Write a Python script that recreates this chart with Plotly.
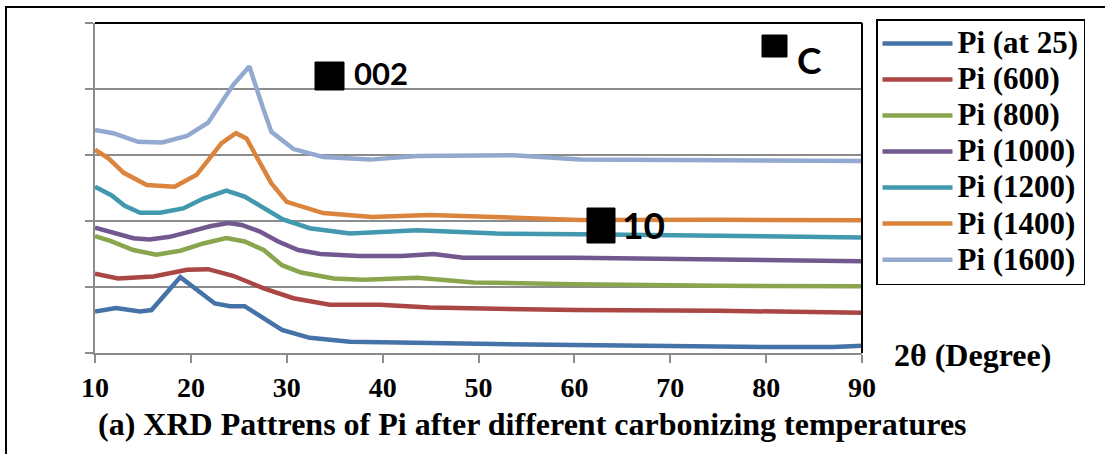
import plotly.graph_objects as go

series_names = ["Pi (at 25)", "Pi (600)", "Pi (800)", "Pi (1000)", "Pi (1200)", "Pi (1400)", "Pi (1600)"]
series_colors = ["#4572A7", "#AA4643", "#89A54E", "#71588F", "#4198AF", "#DB843D", "#93A9CF"]

x_25 = [10, 12.2, 14.7, 15.9, 18.9, 22.5, 24.1, 25.6, 29.5, 32.4, 36.6, 40, 50, 60, 70, 80, 87, 90]
y_25 = [0.63, 0.68, 0.63, 0.65, 1.15, 0.75, 0.71, 0.71, 0.35, 0.23, 0.17, 0.16, 0.14, 0.12, 0.10, 0.09, 0.09, 0.11]

x_600 = [10, 12.4, 16.1, 19.6, 21.8, 24.4, 27.6, 30.7, 34.5, 39.7, 44.9, 60, 75, 90]
y_600 = [1.20, 1.13, 1.16, 1.26, 1.27, 1.17, 0.98, 0.83, 0.73, 0.73, 0.69, 0.65, 0.64, 0.61]

x_800 = [10, 11.6, 14.0, 16.4, 18.9, 21.3, 23.7, 25.6, 27.6, 29.5, 31.5, 34.9, 38.0, 43.6, 49.5, 60, 75, 90]
y_800 = [1.77, 1.70, 1.56, 1.49, 1.55, 1.66, 1.74, 1.69, 1.56, 1.33, 1.22, 1.13, 1.11, 1.14, 1.07, 1.04, 1.02, 1.01]

x_1000 = [10, 11.6, 14.0, 15.7, 17.8, 19.9, 22.0, 23.9, 25.3, 27.2, 29.1, 31.2, 33.5, 37.6, 42, 45.3, 48.4, 60, 75, 90]
y_1000 = [1.90, 1.84, 1.74, 1.72, 1.76, 1.84, 1.92, 1.97, 1.94, 1.84, 1.69, 1.56, 1.50, 1.47, 1.47, 1.50, 1.445, 1.445, 1.42, 1.39]

x_1200 = [10, 11.7, 13.1, 14.7, 16.8, 19.2, 21.3, 23.7, 25.6, 27.6, 29.6, 32.4, 36.6, 43.6, 51.9, 60.6, 75, 90]
y_1200 = [2.52, 2.39, 2.23, 2.125, 2.125, 2.19, 2.34, 2.46, 2.37, 2.19, 2.025, 1.89, 1.81, 1.86, 1.81, 1.80, 1.77, 1.75]

x_1400 = [10, 11.4, 13.0, 15.4, 18.3, 20.6, 23.2, 24.7, 25.8, 28.4, 30.0, 33.8, 38.9, 44.9, 50, 60.6, 75, 90]
y_1400 = [3.08, 2.95, 2.73, 2.545, 2.52, 2.70, 3.18, 3.33, 3.25, 2.57, 2.29, 2.12, 2.06, 2.09, 2.07, 2.015, 2.02, 2.01]

x_1600 = [10, 11.9, 14.5, 17.0, 19.6, 21.8, 24.4, 26.1, 27.6, 28.4, 30.7, 33.8, 38.7, 43.6, 53.6, 60.6, 75, 90]
y_1600 = [3.38, 3.33, 3.20, 3.19, 3.29, 3.49, 4.06, 4.34, 3.68, 3.35, 3.09, 2.97, 2.93, 2.985, 2.995, 2.93, 2.92, 2.91]

x_ticks = [10, 20, 30, 40, 50, 60, 70, 80, 90]
x_title = "2θ (Degree)"
chart_caption = "(a) XRD Pattrens of Pi after different carbonizing temperatures"
peak_labels = ["002", "C", "10"]

xs_all = [x_25, x_600, x_800, x_1000, x_1200, x_1400, x_1600]
ys_all = [y_25, y_600, y_800, y_1000, y_1200, y_1400, y_1600]

W, H = 1105, 454
L, R, T, B = 95, 862, 23, 353


def px(xp):
    return (xp - L) / (R - L)


def py(yp):
    return (B - yp) / (B - T)


SERIF = "Liberation Serif"
SANS = "Lato"

fig = go.Figure()
for name, xs, ys, col in zip(series_names, xs_all, ys_all, series_colors):
    fig.add_trace(go.Scatter(
        x=xs, y=ys, mode="lines",
        name='<span style="font-size:31px">%s</span>' % name,
        line=dict(color=col, width=4.5),
    ))

grey = "#8C8C8C"
fig.update_xaxes(
    range=[10, 90], tickvals=x_ticks, ticks="outside", ticklen=8, tickwidth=1.5,
    tickcolor=grey, showline=True, linecolor=grey, linewidth=2, showgrid=False,
    zeroline=False, tickfont=dict(family=SERIF, size=28, color="black", weight="bold"),
    ticklabelstandoff=0,
)
fig.update_yaxes(
    range=[0, 5], dtick=1, ticks="outside", ticklen=8, tickwidth=1.5, tickcolor=grey,
    showticklabels=False, showline=True, linecolor=grey, linewidth=2,
    showgrid=True, gridcolor=grey, gridwidth=1.5, zeroline=False,
)

shapes = [
    dict(type="line", xref="paper", yref="paper", x0=0, x1=1, y0=1, y1=1,
         line=dict(color="black", width=2)),
    dict(type="line", xref="paper", yref="paper", x0=1, x1=1, y0=0, y1=1,
         line=dict(color="black", width=2)),
    dict(type="rect", xref="paper", yref="paper", x0=px(6), x1=px(1112), y0=py(462), y1=py(7),
         line=dict(color="black", width=2), layer="below"),
    dict(type="rect", xref="paper", yref="paper", x0=px(315), x1=px(344), y0=py(90), y1=py(62),
         fillcolor="black", line=dict(color="black", width=1)),
    dict(type="rect", xref="paper", yref="paper", x0=px(762), x1=px(787), y0=py(57), y1=py(35),
         fillcolor="black", line=dict(color="black", width=1)),
    dict(type="rect", xref="paper", yref="paper", x0=px(587), x1=px(615), y0=py(243), y1=py(208),
         fillcolor="black", line=dict(color="black", width=1)),
]

annotations = [
    dict(text=peak_labels[0], x=px(352), y=py(73), xref="paper", yref="paper",
         xanchor="left", yanchor="middle", showarrow=False,
         font=dict(family=SANS, size=31, color="black", weight="bold")),
    dict(text=peak_labels[1], x=px(795), y=py(60), xref="paper", yref="paper",
         xanchor="left", yanchor="middle", showarrow=False,
         font=dict(family=SANS, size=37, color="black", weight="bold")),
    dict(text=peak_labels[2], x=px(620), y=py(224), xref="paper", yref="paper",
         xanchor="left", yanchor="middle", showarrow=False,
         font=dict(family=SANS, size=37, color="black", weight="bold")),
    dict(text=x_title, x=px(892), y=py(355), xref="paper", yref="paper",
         xanchor="left", yanchor="middle", showarrow=False,
         font=dict(family=SERIF, size=32, color="black", weight="bold")),
    dict(text=chart_caption, x=px(96), y=py(424), xref="paper", yref="paper",
         xanchor="left", yanchor="middle", showarrow=False,
         font=dict(family=SERIF, size=32, color="black", weight="bold")),
]

fig.update_layout(
    width=W, height=H,
    margin=dict(l=L, r=W - R, t=T, b=H - B, pad=0),
    paper_bgcolor="white", plot_bgcolor="white",
    shapes=shapes, annotations=annotations,
    showlegend=True,
    legend=dict(
        x=px(876), y=py(19), xanchor="left", yanchor="top",
        bordercolor="black", borderwidth=1.5, bgcolor="white",
        font=dict(family=SERIF, size=25.4, color="black", weight="bold"),
        itemwidth=70, tracegroupgap=0, maxheight=320,
    ),
)

fig.write_html("out.html", config={"displayModeBar": False},
               post_script="document.body.style.margin='0';")
